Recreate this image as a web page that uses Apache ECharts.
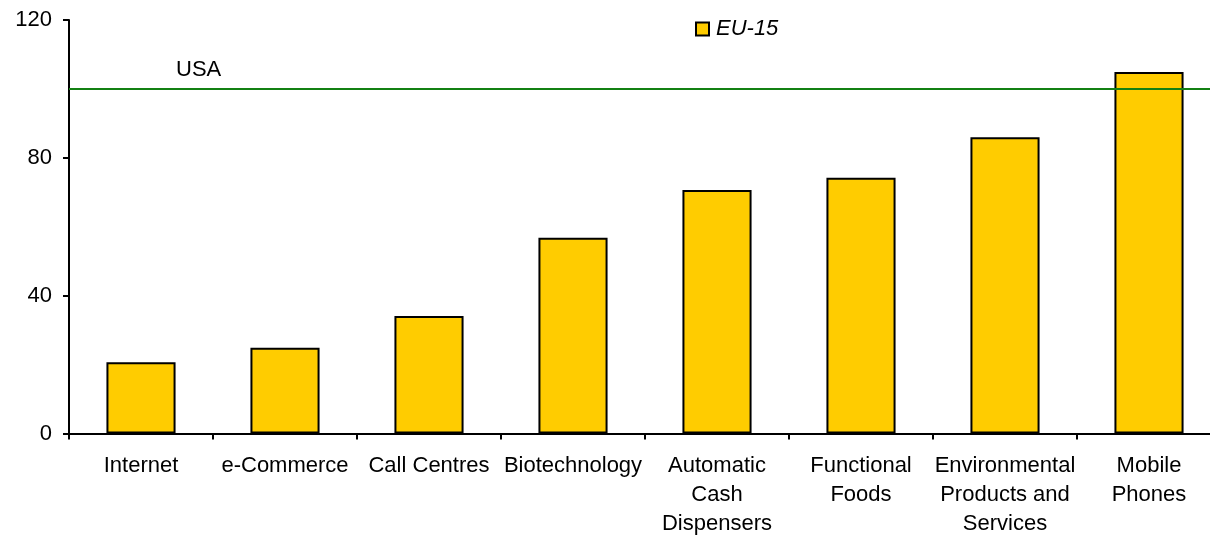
<!DOCTYPE html>
<html>
<head>
<meta charset="utf-8">
<script src="https://cdn.jsdelivr.net/npm/echarts@6/dist/echarts.min.js"></script>
<style>
  html, body { margin: 0; padding: 0; background: #fff; }
  #chart { width: 1210px; height: 536px; }
</style>
</head>
<body>
<div id="chart"></div>
<script>
// Sectors compared against the USA level (USA = 100)
const categories = [
  'Internet', 'e-Commerce', 'Call Centres', 'Biotechnology',
  'Automatic\nCash\nDispensers', 'Functional\nFoods',
  'Environmental\nProducts and\nServices', 'Mobile\nPhones'
];
const eu15Values = [20.7, 24.9, 34.1, 56.8, 70.7, 74.2, 86.0, 104.9];
const usaLevel = 100;
const yTicks = [0, 40, 80, 120];

const FONT = '"Liberation Sans", Arial, sans-serif';
const chart = echarts.init(document.getElementById('chart'));

chart.setOption({
  animation: false,
  textStyle: { fontFamily: FONT, color: '#000' },
  // the plot runs slightly past the right edge of the canvas
  grid: {
    left: 69, top: 20, bottom: 102.5, right: -11,
    containLabel: false, outerBoundsMode: 'none'
  },
  legend: {
    left: 690, top: 13,
    itemWidth: 13, itemHeight: 13,
    itemGap: 8,
    data: [{ name: 'EU-15', icon: 'rect' }],
    textStyle: { fontFamily: FONT, fontSize: 22, fontStyle: 'italic', color: '#000', padding: [0, 0, 0, 2] }
  },
  xAxis: {
    type: 'category',
    data: categories,
    axisLine: { lineStyle: { color: '#000', width: 2 } },
    axisTick: { show: true, length: 6, lineStyle: { color: '#000', width: 2 } },
    axisLabel: {
      interval: 0, margin: 17.5, color: '#000',
      fontFamily: FONT, fontSize: 22, lineHeight: 29
    }
  },
  yAxis: {
    type: 'value',
    min: yTicks[0], max: yTicks[yTicks.length - 1], interval: 40,
    splitLine: { show: false },
    axisLine: { show: true, lineStyle: { color: '#000', width: 2 } },
    axisTick: { show: true, length: 6, lineStyle: { color: '#000', width: 2 } },
    axisLabel: { margin: 17, color: '#000', fontFamily: FONT, fontSize: 22 }
  },
  series: [{
    name: 'EU-15',
    type: 'bar',
    data: eu15Values,
    barWidth: '48%',
    itemStyle: { color: '#FFCC00', borderColor: '#000', borderWidth: 2 },
    markLine: {
      symbol: 'none',
      silent: true,
      lineStyle: { color: '#138013', width: 2, type: 'solid' },
      label: {
        show: true,
        formatter: 'USA',
        position: 'insideStartTop',
        padding: [0, 0, 0, 99],
        distance: 8,
        color: '#000',
        fontFamily: FONT,
        fontSize: 22
      },
      data: [{ yAxis: usaLevel }]
    }
  }]
});
</script>
</body>
</html>
